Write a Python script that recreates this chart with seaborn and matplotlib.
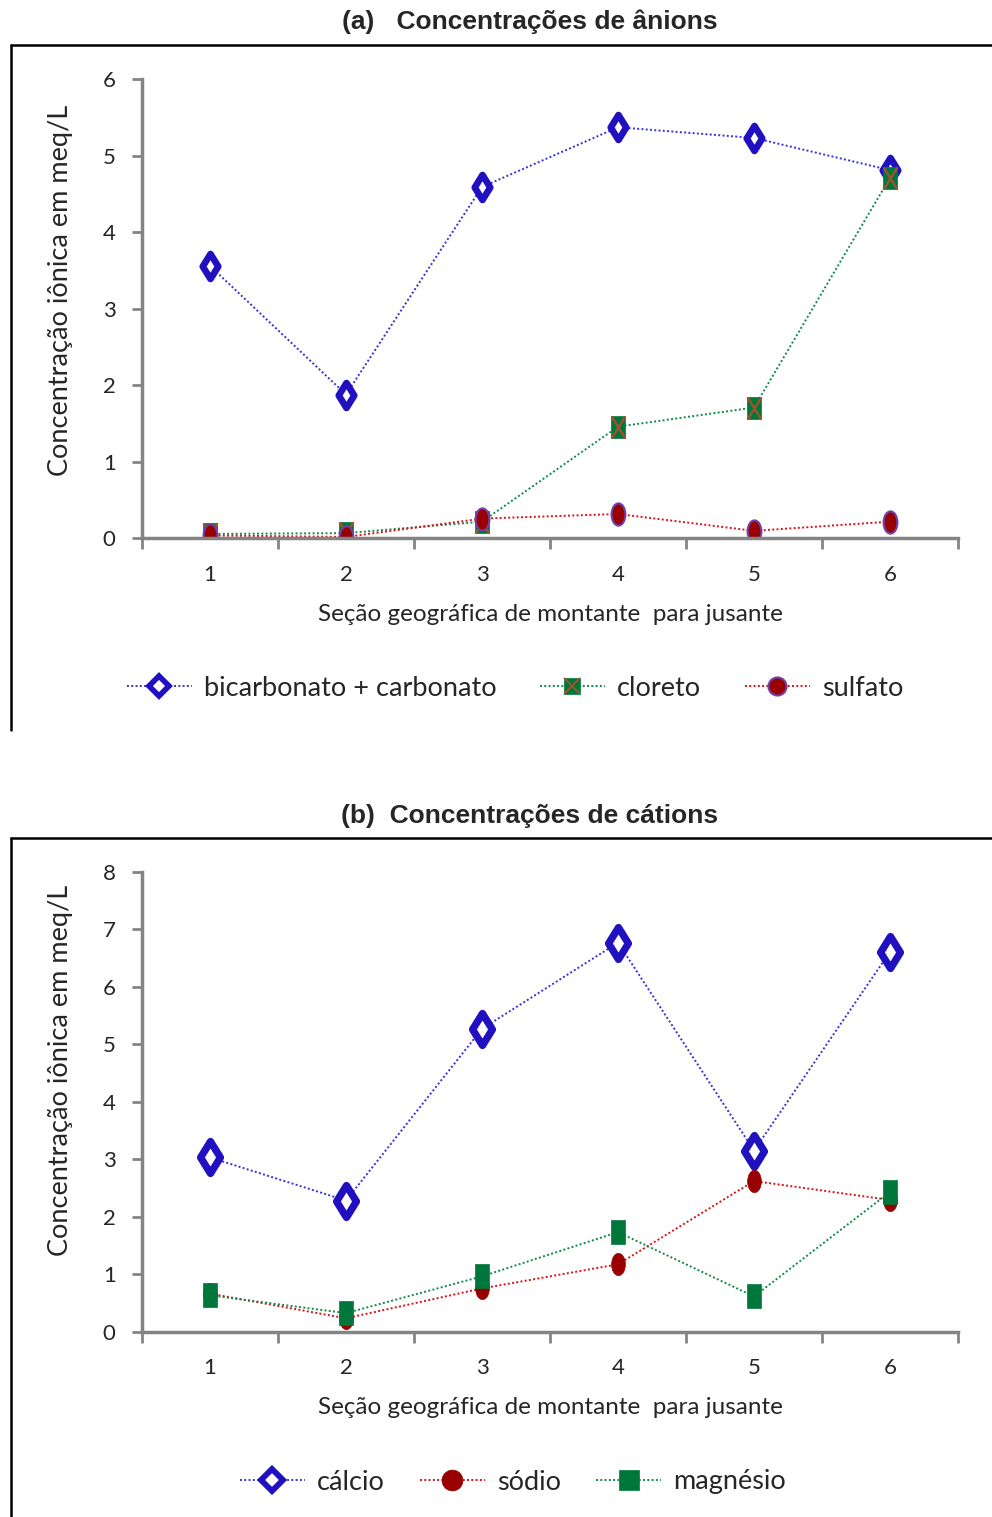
import numpy as np
import pandas as pd
import matplotlib
matplotlib.use("Agg")
import matplotlib.pyplot as plt
from matplotlib.path import Path
from matplotlib.lines import Line2D
from matplotlib.legend_handler import HandlerTuple
import seaborn as sns

# ---------------- data ----------------
secoes = [1, 2, 3, 4, 5, 6]
bicarbonato = [3.56, 1.88, 4.59, 5.37, 5.23, 4.81]
cloreto = [0.06, 0.07, 0.22, 1.46, 1.71, 4.71]
sulfato = [0.04, 0.02, 0.26, 0.32, 0.10, 0.22]

calcio = [3.03, 2.28, 5.27, 6.77, 3.15, 6.61]
sodio = [0.66, 0.23, 0.75, 1.17, 2.62, 2.29]
magnesio = [0.63, 0.32, 0.96, 1.73, 0.61, 2.43]

title_a = "(a)   Concentrações de ânions"
title_b = "(b)  Concentrações de cátions"
xlabel = "Seção geográfica de montante  para jusante"
ylabel = "Concentração iônica em meq/L"
labels_a = ["bicarbonato + carbonato", "cloreto", "sulfato"]
labels_b = ["cálcio", "sódio", "magnésio"]

sns.set_style("white")
plt.rcParams['font.family'] = ['Lato', 'DejaVu Sans']

BLUE = "#2010C0"
BLUE_LINE = "#3a2fd8"
GREEN = "#00773a"
GREEN_LINE = "#0f8a4a"
RED = "#990000"
RED_LINE = "#dd1111"
PURPLE = "#7040a8"
BROWN = "#a0522d"
GRAY = "#848484"

# stretched markers (as in the reference)
diamond = Path([(0, 1), (0.62, 0), (0, -1), (-0.62, 0), (0, 1)],
               [Path.MOVETO, Path.LINETO, Path.LINETO, Path.LINETO, Path.CLOSEPOLY])
square = Path([(-0.62, -1), (0.62, -1), (0.62, 1), (-0.62, 1), (-0.62, -1)],
              [Path.MOVETO, Path.LINETO, Path.LINETO, Path.LINETO, Path.CLOSEPOLY])
circ = Path.unit_circle()
ellipse = Path(circ.vertices * np.array([0.62, 1.0]), circ.codes)
xcross = Path([(-0.62, -1), (0.62, 1), (-0.62, 1), (0.62, -1)],
              [Path.MOVETO, Path.LINETO, Path.MOVETO, Path.LINETO])

DOT = (0, (1, 1.2))

fig = plt.figure(figsize=(9.92, 15.17), dpi=100)

ax1 = fig.add_axes([142/992, 1-538.5/1517, (958-142)/992, (538.5-79)/1517])
ax2 = fig.add_axes([142/992, 1-1331.5/1517, (958-142)/992, (1331.5-872)/1517])

df_a = pd.DataFrame({"x": secoes, "bic": bicarbonato, "clo": cloreto, "sul": sulfato})
df_b = pd.DataFrame({"x": secoes, "ca": calcio, "na": sodio, "mg": magnesio})

# ---- panel a ----
sns.lineplot(data=df_a, x="x", y="bic", ax=ax1, color=BLUE_LINE, linestyle=DOT, lw=1.4,
             marker=diamond, markersize=18, mfc="white", mec=BLUE, mew=4.8)
sns.lineplot(data=df_a, x="x", y="clo", ax=ax1, color=GREEN_LINE, linestyle=DOT, lw=1.4,
             marker=square, markersize=16, mfc=GREEN, mec=GREEN, mew=0.5)
sns.lineplot(data=df_a, x="x", y="clo", ax=ax1, color=BROWN, linestyle="",
             marker=xcross, markersize=16, mfc="none", mec=BROWN, mew=1.7)
sns.lineplot(data=df_a, x="x", y="sul", ax=ax1, color=RED_LINE, linestyle=DOT, lw=1.4,
             marker=ellipse, markersize=16, mfc=RED, mec=PURPLE, mew=1.5)

# ---- panel b ----
sns.lineplot(data=df_b, x="x", y="ca", ax=ax2, color=BLUE_LINE, linestyle=DOT, lw=1.4,
             marker=diamond, markersize=23, mfc="white", mec=BLUE, mew=5.3)
sns.lineplot(data=df_b, x="x", y="na", ax=ax2, color=RED_LINE, linestyle=DOT, lw=1.4,
             marker=ellipse, markersize=16, mfc=RED, mec=RED, mew=0.5)
sns.lineplot(data=df_b, x="x", y="mg", ax=ax2, color=GREEN_LINE, linestyle=DOT, lw=1.4,
             marker=square, markersize=17, mfc=GREEN, mec=GREEN, mew=0.5)

for ax, ymax, ylab_y in ((ax1, 6, 0.539), (ax2, 8, 0.569)):
    ax.set_xlim(0.5, 6.5)
    ax.set_ylim(0, ymax)
    ax.set_yticks(range(0, ymax + 1))
    ax.set_xticks(np.arange(0.5, 7, 1.0))
    ax.set_xticklabels([])
    ax.set_xticks(secoes, minor=True)
    ax.set_xticklabels([str(s) for s in secoes], minor=True)
    ax.tick_params(axis="x", which="major", length=8, width=2, color=GRAY, direction="out", bottom=True)
    ax.tick_params(axis="x", which="minor", length=0, labelsize=16, pad=19, bottom=True)
    ax.tick_params(axis="y", length=7, width=2, color=GRAY, direction="out", labelsize=16, pad=12, left=True)
    for s in ("top", "right"):
        ax.spines[s].set_visible(False)
    for s in ("left", "bottom"):
        ax.spines[s].set_color(GRAY)
        ax.spines[s].set_linewidth(2.5)
    ax.set_xlabel(xlabel, fontsize=17.5, labelpad=14)
    ax.set_ylabel(ylabel, fontsize=19.5)
    ax.yaxis.set_label_coords(-0.0846, ylab_y)
    ax.patch.set_alpha(0)

# titles
fig.text(530/992, 1-22/1517, title_a, ha="center", va="center", fontsize=19,
         fontweight="bold", family="Liberation Sans")
fig.text(530/992, 1-816/1517, title_b, ha="center", va="center", fontsize=19,
         fontweight="bold", family="Liberation Sans")

# chart frames
def frame(ytop, ybot):
    fig.add_artist(Line2D([11/992, 11/992], [1-ybot/1517, 1-ytop/1517],
                          transform=fig.transFigure, color="black", lw=1.8))
    fig.add_artist(Line2D([11/992, 1.0], [1-ytop/1517, 1-ytop/1517],
                          transform=fig.transFigure, color="black", lw=1.8))
frame(45, 730)
frame(838, 1517)

# legends
def h(lc, marker, ms, mfc, mec, mew):
    return Line2D([], [], color=lc, linestyle=DOT, lw=1.4, marker=marker, markersize=ms,
                  mfc=mfc, mec=mec, mew=mew)

hb = h(BLUE_LINE, "D", 10, "white", BLUE, 4)
hc = (h(GREEN_LINE, "s", 12, GREEN, GREEN, 0.5),
      Line2D([], [], linestyle="", marker="x", markersize=12, mec=BROWN, mew=1.4))
hs = h(RED_LINE, "o", 13, RED, PURPLE, 1.5)
fig.legend([hb, hc, hs], labels_a, loc="center", bbox_to_anchor=(515/992, 1-688/1517),
           ncol=3, frameon=False, fontsize=19.5, handlelength=2.4, columnspacing=1.6,
           handletextpad=0.45, handler_map={tuple: HandlerTuple(ndivide=1)})

hca = h(BLUE_LINE, "D", 11, "white", BLUE, 4.2)
hna = h(RED_LINE, "o", 15, RED, RED, 0.5)
hmg = h(GREEN_LINE, "s", 14, GREEN, GREEN, 0.5)
fig.legend([hca, hna, hmg], labels_b, loc="center", bbox_to_anchor=(513/992, 1-1482/1517),
           ncol=3, frameon=False, fontsize=19.5, handlelength=2.4, columnspacing=1.3,
           handletextpad=0.45)

fig.savefig("out.png", dpi=100)
